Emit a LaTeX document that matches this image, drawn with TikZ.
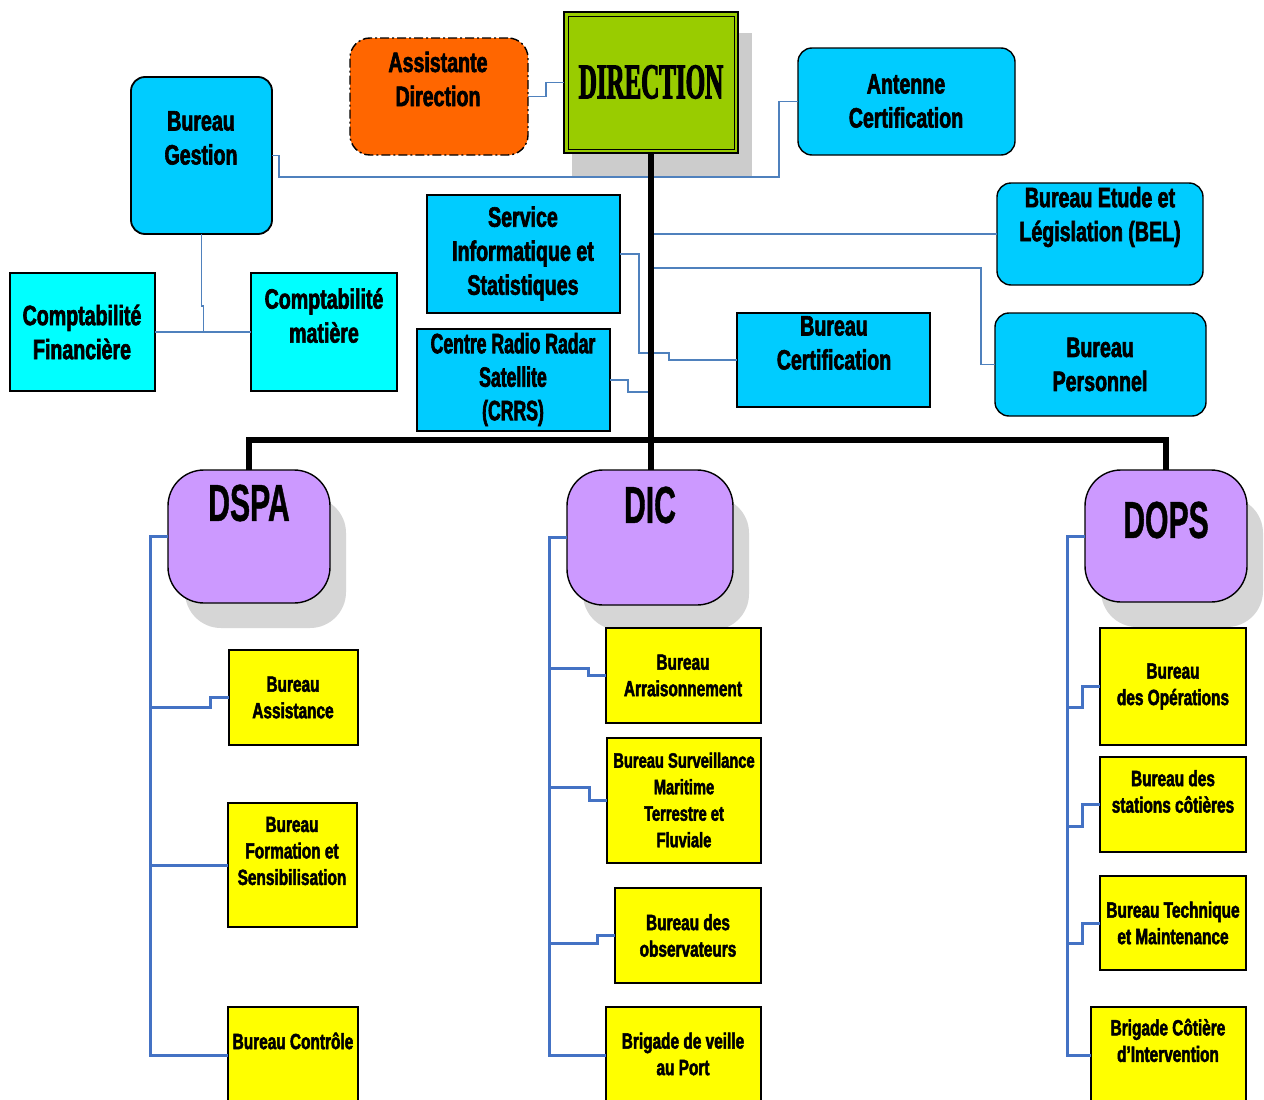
\documentclass[tikz,border=0pt]{standalone}
\usepackage{fontspec}
\setmainfont{Liberation Sans}
\newfontfamily\narr{Liberation Sans Bold}[FakeStretch=0.7, FakeBold=2.2]
\newfontfamily\narrB{Liberation Sans Bold}[FakeStretch=0.63, FakeBold=2.2]
\newfontfamily\dfont{Liberation Sans Bold}[FakeStretch=0.58, FakeBold=0.8]
\newfontfamily\dirfont{Liberation Serif Bold}[FakeStretch=0.5, FakeBold=2]
\usetikzlibrary{calc}
\definecolor{cyanA}{RGB}{0,204,255}
\definecolor{cyanB}{RGB}{0,255,255}
\definecolor{orangeA}{RGB}{255,102,0}
\definecolor{greenA}{RGB}{153,204,0}
\definecolor{purpleA}{RGB}{204,153,255}
\definecolor{yellowA}{RGB}{255,255,0}
\definecolor{shadowA}{RGB}{204,204,204}
\definecolor{shadowB}{RGB}{214,214,214}
\definecolor{lineA}{RGB}{79,129,189}
\definecolor{lineB}{RGB}{68,114,196}
\begin{document}
\begin{tikzpicture}[x=1pt,y=-1pt,
  box/.style={draw=black, line width=1.4pt, inner sep=0pt, outer sep=0pt},
  cbox/.style={box, fill=cyanA, rounded corners=14pt},
  rbox/.style={box, fill=cyanA},
  tbox/.style={box, fill=cyanB},
  ybox/.style={box, fill=yellowA, line width=1.2pt},
  pbox/.style={box, fill=purpleA, rounded corners=36pt},
  psh/.style={fill=shadowB, rounded corners=36pt, inner sep=0pt, outer sep=0pt},
  utext/.style={font={\narr\fontsize{28}{34}\selectfont}, align=center, inner sep=0pt},
  ytext/.style={font={\narr\fontsize{22}{26.5}\selectfont}, align=center, inner sep=0pt},
  dtext/.style={font={\dfont\fontsize{52}{60}\selectfont}, inner sep=0pt},
  upl/.style={draw=lineA, line width=1.5pt},
  lowl/.style={draw=lineB, line width=3pt},
  trunk/.style={draw=black, line width=5.5pt}
]
\clip (0,0) rectangle (1264,1100);
\fill[white] (0,0) rectangle (1264,1100);

% shadows
\node[fill=shadowA, minimum width=180pt, minimum height=143pt, inner sep=0pt] (dirsh) at (662,104.5) {};
\node[psh, minimum width=161pt, minimum height=131pt] (dspash) at (265.5,562.5) {};
\node[psh, minimum width=166pt, minimum height=133pt] (dicsh) at (666,563.5) {};
\node[psh, minimum width=162pt, minimum height=130pt] (dopssh) at (1182,562) {};

% upper boxes
\node[box, fill=orangeA, rounded corners=20pt, dash pattern=on 9pt off 3pt on 2pt off 3pt,
      minimum width=178pt, minimum height=117pt] (ad) at (439,96.5) {};
\node[box, fill=greenA, line width=2pt, minimum width=174pt, minimum height=141pt] (dir) at (651,82.5) {};
\draw[line width=1pt] ([xshift=4pt,yshift=-4pt]dir.north west) rectangle ([xshift=-4pt,yshift=4pt]dir.south east);
\node[cbox, minimum width=217pt, minimum height=107pt] (ac) at (906.5,101.5) {};
\node[cbox, line width=1.8pt, minimum width=141pt, minimum height=157pt] (bg) at (201.5,155.5) {};
\node[tbox, minimum width=145pt, minimum height=118pt] (cf) at (82.5,332) {};
\node[tbox, minimum width=146pt, minimum height=118pt] (cm) at (324,332) {};
\node[rbox, minimum width=193pt, minimum height=118pt] (si) at (523.5,254) {};
\node[rbox, minimum width=193pt, minimum height=102pt] (crrs) at (513.5,380) {};
\node[rbox, minimum width=193pt, minimum height=94pt] (bc) at (833.5,360) {};
\node[cbox, minimum width=206pt, minimum height=102pt] (bel) at (1100,234) {};
\node[cbox, minimum width=211pt, minimum height=103pt] (bp) at (1100.5,364.5) {};

% directorates
\node[pbox, minimum width=162pt, minimum height=133pt] (dspa) at (249,536.5) {};
\node[pbox, minimum width=166pt, minimum height=135pt] (dic) at (650,537.5) {};
\node[pbox, minimum width=162pt, minimum height=132pt] (dops) at (1166,536) {};

% yellow boxes
\node[ybox, minimum width=129pt, minimum height=95pt] (bas) at (293.5,697.5) {};
\node[ybox, minimum width=129pt, minimum height=124pt] (bfs) at (292.5,865) {};
\node[ybox, minimum width=130pt, minimum height=96pt] (bctl) at (293,1055) {};
\node[ybox, minimum width=155pt, minimum height=95pt] (barr) at (683.5,675.5) {};
\node[ybox, minimum width=154pt, minimum height=125pt] (bsm) at (684,800.5) {};
\node[ybox, minimum width=146pt, minimum height=95pt] (bobs) at (688,935.5) {};
\node[ybox, minimum width=155pt, minimum height=96pt] (bvp) at (683.5,1055) {};
\node[ybox, minimum width=146pt, minimum height=117pt] (bop) at (1173,686.5) {};
\node[ybox, minimum width=146pt, minimum height=95pt] (bst) at (1173,804.5) {};
\node[ybox, minimum width=146pt, minimum height=94pt] (btm) at (1173,923) {};
\node[ybox, minimum width=155pt, minimum height=96pt] (bci) at (1168.5,1055) {};

% upper connectors
\draw[upl] (ad.east) -- ++(18,0) |- (dir.west);
\draw[upl] (bg.east) -- ++(7,0) -- ++(0,21.5) -| ([xshift=-19pt]ac.west) -- (ac.west);
\draw[upl] (bg.south) -- ++(0,72) -- ++(2,0) -- ++(0,26);
\draw[upl] (cf.east) -- (cm.west);
\draw[upl] (si.east) -- ++(19,0) -- ++(0,99) -- ++(30,0) |- (bc.west);
\draw[upl] (crrs.east) -- ++(18,0) -- ++(0,12) -- ++(23,0);
\draw[upl] (dir.south |- bel.west) -- (bel.west);
\draw[upl] ($(dir.south)+(0,115)$) -| ([xshift=-14pt]bp.west) -- (bp.west);

% trunk
\draw[trunk] (dir.south) -- (dir.south |- dic.north);
\draw[trunk] (dspa.north) -- ++(0,-30) -| (dops.north);

% lower connectors
\draw[lowl] (dspa.west) -- ++(-18,0) |- (bctl.west);
\draw[lowl] (bas.west) -- ++(-19,0) -- ++(0,9.5) -- ++(-60,0);
\draw[lowl] (bfs.west) -- ++(-78,0);
\draw[lowl] (dic.west) -- ++(-18,0) |- (bvp.west);
\draw[lowl] (barr.west) -- ++(-18,0) -- ++(0,-7.5) -- ++(-39,0);
\draw[lowl] (bsm.west) -- ++(-18,0) -- ++(0,-13.5) -- ++(-40,0);
\draw[lowl] (bobs.west) -- ++(-18,0) -- ++(0,7.5) -- ++(-48,0);
\draw[lowl] (dops.west) -- ++(-18,0) |- (bci.west);
\draw[lowl] (bop.west) -- ++(-18,0) -- ++(0,20.5) -- ++(-15,0);
\draw[lowl] (bst.west) -- ++(-18,0) -- ++(0,21.5) -- ++(-15,0);
\draw[lowl] (btm.west) -- ++(-18,0) -- ++(0,20) -- ++(-15,0);

% texts
\node[utext] (tad) at (438,79) {Assistante\\Direction};
\node[font={\dirfont\fontsize{50}{56}\selectfont}, inner sep=0pt] (tdir) at (651,82) {DIRECTION};
\node[utext] (tac) at (906,101) {Antenne\\Certification};
\node[utext] (tbg) at (201,138) {Bureau\\Gestion};
\node[utext] (tcf) at (82,332) {Comptabilité\\Financière};
\node[utext] (tcm) at (324,315.5) {Comptabilité\\matière};
\node[utext] (tsi) at (523,253.5) {Service\\Informatique et\\Statistiques};
\node[utext, font={\narrB\fontsize{28}{33.5}\selectfont}] (tcrrs) at (513,379.5) {Centre Radio Radar\\Satellite\\(CRRS)};
\node[utext] (tbc) at (834,343) {Bureau\\Certification};
\node[utext] (tbel) at (1100,217) {Bureau Etude et\\Législation (BEL)};
\node[utext] (tbp) at (1100,364.5) {Bureau\\Personnel};

\node[dtext] (tdspa) at (249,503) {DSPA};
\node[dtext] (tdic) at (650,505) {DIC};
\node[dtext] (tdops) at (1166,520) {DOPS};

\node[ytext] (tbas) at (293,697.5) {Bureau\\Assistance};
\node[ytext] (tbfs) at (292,851) {Bureau\\Formation et\\Sensibilisation};
\node[ytext] (tbctl) at (293,1041) {Bureau Contrôle};
\node[ytext] (tbarr) at (683,675.5) {Bureau\\Arraisonnement};
\node[ytext, font={\narr\fontsize{21}{26.5}\selectfont}] (tbsm) at (684,800) {Bureau Surveillance\\Maritime\\Terrestre et\\Fluviale};
\node[ytext] (tbobs) at (688,935.5) {Bureau des\\observateurs};
\node[ytext] (tbvp) at (683,1054) {Brigade de veille\\au Port};
\node[ytext] (tbop) at (1173,686.5) {Bureau\\des Opérations};
\node[ytext] (tbst) at (1173,791.5) {Bureau des\\stations côtières};
\node[ytext] (tbtm) at (1173,923) {Bureau Technique\\et Maintenance};
\node[ytext] (tbci) at (1168,1040.5) {Brigade Côtière\\d’Intervention};
\end{tikzpicture}
\end{document}
